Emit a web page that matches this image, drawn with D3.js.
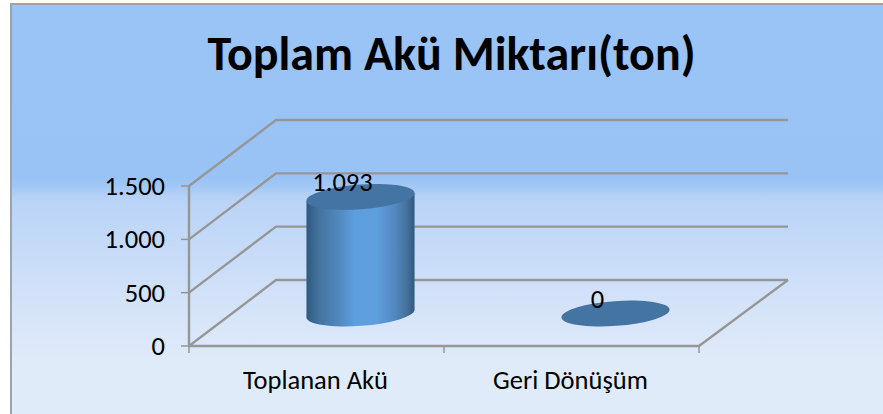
<!DOCTYPE html>
<html><head><meta charset="utf-8">
<script src="https://cdn.jsdelivr.net/npm/d3@7"></script>
<style>html,body{margin:0;padding:0;background:#fff}svg{display:block}text{font-family:Carlito,"Open Sans","Noto Sans",sans-serif}</style>
</head><body><div id="c"></div>
<script>
const titleText = "Toplam Akü Miktarı(ton)";
const categories = ["Toplanan Akü", "Geri Dönüşüm"];
const values = [1093, 0];
const valueLabels = ["1.093", "0"];
const yTicks = [0, 500, 1000, 1500];
const tickLabels = ["0", "500", "1.000", "1.500"];

const W = 883, H = 414;
const svg = d3.select("#c").append("svg").attr("width", W).attr("height", H);
const defs = svg.append("defs");

const bg = defs.append("linearGradient").attr("id","bg").attr("x1",0).attr("x2",0).attr("y1",0).attr("y2",1);
[[0,"#9ac3f6"],[0.42,"#99c2f5"],[0.44,"#9fc6f5"],[0.475,"#b9d3f7"],[0.75,"#d6e4f9"],[0.88,"#e0ebfa"],[1,"#e0ebfa"]]
 .forEach(s=>bg.append("stop").attr("offset",s[0]).attr("stop-color",s[1]));
const cyl = defs.append("linearGradient").attr("id","cyl");
[[0,"#2f5a80"],[0.12,"#44749f"],[0.3,"#5288c0"],[0.45,"#5d9fde"],[0.65,"#5e9fde"],[0.82,"#5288c0"],[0.93,"#44719b"],[1,"#2f5a80"]]
 .forEach(s=>cyl.append("stop").attr("offset",s[0]).attr("stop-color",s[1]));

svg.append("rect").attr("x",11).attr("y",4).attr("width",W-11).attr("height",H-4).attr("fill","url(#bg)");
svg.append("path").attr("d",d3.line()([[11,H],[11,4],[W,4]])).attr("fill","none").attr("stroke","#9aa3ae").attr("stroke-width",2);

svg.append("text").attr("x",451.5).attr("y",69.5).attr("text-anchor","middle")
  .attr("font-size",48).attr("font-weight",700).attr("fill","#000").text(titleText);

// plot frame
const frontL = 189, frontR = 699, dx = 87, dy = 66;
const y = d3.scaleLinear().domain([0,1500]).range([346,186]);
const x = d3.scaleBand().domain(categories).range([frontL,frontR]);
const grey = "#969696";
const g = svg.append("g").attr("fill","none").attr("stroke",grey).attr("stroke-width",2.4);

// wall grid
yTicks.forEach(t=>{
  g.append("path").attr("d",d3.line()([[frontL,y(t)],[frontL+dx,y(t)-dy],[W-95,y(t)-dy]]));
  g.append("line").attr("x1",frontL-8).attr("x2",frontL).attr("y1",y(t)).attr("y2",y(t)).attr("stroke-width",1.5);
});
g.append("line").attr("x1",frontL).attr("x2",frontL).attr("y1",y(1500)).attr("y2",y(0));
// floor
g.append("path").attr("d",d3.line()([[frontL,y(0)],[frontR,y(0)],[frontR+dx+2,y(0)-dy]]));
[frontL,frontL+(frontR-frontL)/2,frontR].forEach(px=>
  g.append("line").attr("x1",px).attr("x2",px).attr("y1",y(0)).attr("y2",y(0)+7).attr("stroke-width",1.5));

svg.append("g").selectAll("text").data(yTicks).join("text")
  .attr("x",165).attr("y",(d)=>y(d)+9).attr("text-anchor","end").attr("font-size",26.5).attr("fill","#000")
  .text((d,i)=>tickLabels[i]);
svg.append("g").selectAll("text").data(categories).join("text")
  .attr("x",(d)=>x(d)+x.bandwidth()/2-1).attr("y",389).attr("text-anchor","middle").attr("font-size",26.5).attr("fill","#000")
  .text(d=>d);

// cylinders
const depthX = 44, depthY = 32.5, a = 54.2, b = 12.4, tilt = -4.2;
const rad = tilt*Math.PI/180;
categories.forEach((c,i)=>{
  const cx = x(c)+x.bandwidth()/2+depthX;
  const y0 = y(0)-depthY, y1 = y(values[i])-depthY;
  const ex = a*Math.cos(rad), ey = a*Math.sin(rad);
  const G = svg.append("g");
  if(values[i]>0){
    G.append("path").attr("fill","url(#cyl)")
     .attr("d",`M${cx-ex},${y1-ey} L${cx-ex},${y0-ey} A${a},${b} ${tilt} 0 0 ${cx+ex},${y0+ey} L${cx+ex},${y1+ey} Z`);
  }
  G.append("ellipse").attr("cx",0).attr("cy",0).attr("rx",a).attr("ry",b)
   .attr("transform",`translate(${cx},${y1}) rotate(${tilt})`).attr("fill","#4475a2");
  svg.append("text").attr("x",cx-18).attr("y",y1-6).attr("text-anchor","middle")
    .attr("font-size",26.5).attr("fill","#000").text(valueLabels[i]);
});
</script></body></html>
